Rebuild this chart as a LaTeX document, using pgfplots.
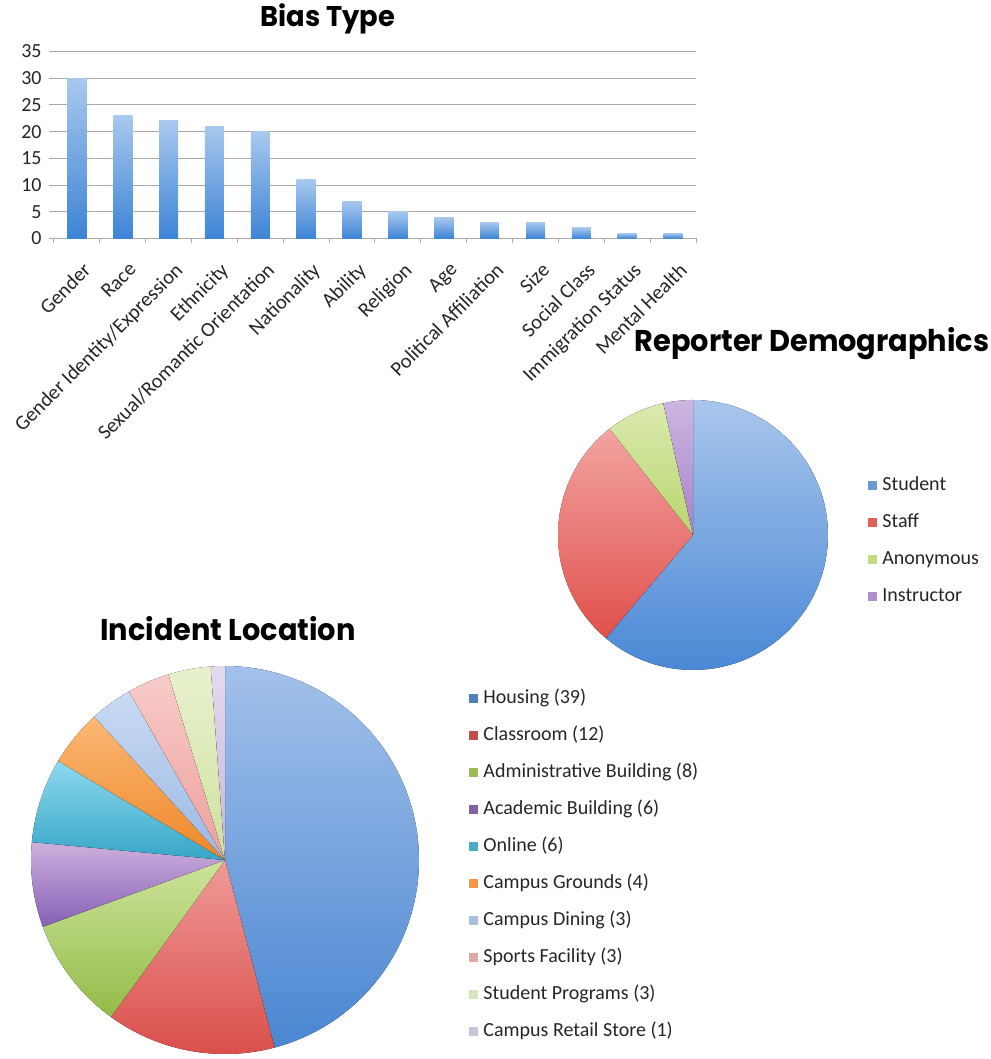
\documentclass[border=0pt]{standalone}
\usepackage{fontspec}
\setmainfont{Carlito}
\newfontfamily\titlefont{Poppins}[FakeStretch=0.96]
\usepackage{pgfplots}
\usepackage{pgfplotstable}
\pgfplotsset{compat=1.18}

\definecolor{gridgray}{HTML}{A8A8A8}
\definecolor{bartop}{HTML}{A8C8EE}
\definecolor{barbot}{HTML}{3D84D6}
\definecolor{txt}{HTML}{262626}
% Reporter colours (t = top, b = bottom, m = legend)
\definecolor{rep0t}{HTML}{A9C6EC}\definecolor{rep0b}{HTML}{4A88D6}\definecolor{rep0m}{HTML}{6A9BD8}
\definecolor{rep1t}{HTML}{F2A4A1}\definecolor{rep1b}{HTML}{E0504C}\definecolor{rep1m}{HTML}{E0605C}
\definecolor{rep2t}{HTML}{DAEAAE}\definecolor{rep2b}{HTML}{B9D56E}\definecolor{rep2m}{HTML}{C2DB80}
\definecolor{rep3t}{HTML}{CDB6E2}\definecolor{rep3b}{HTML}{A582C8}\definecolor{rep3m}{HTML}{B08FCF}
% Incident colours
\definecolor{inc0t}{HTML}{A3C1EA}\definecolor{inc0b}{HTML}{4A86D2}\definecolor{inc0m}{HTML}{4F81BD}
\definecolor{inc1t}{HTML}{F09A97}\definecolor{inc1b}{HTML}{D94F4B}\definecolor{inc1m}{HTML}{C0504D}
\definecolor{inc2t}{HTML}{CDE39B}\definecolor{inc2b}{HTML}{93BB48}\definecolor{inc2m}{HTML}{9BBB59}
\definecolor{inc3t}{HTML}{CDB0DD}\definecolor{inc3b}{HTML}{8660B6}\definecolor{inc3m}{HTML}{8064A2}
\definecolor{inc4t}{HTML}{8DD8EE}\definecolor{inc4b}{HTML}{36A6C6}\definecolor{inc4m}{HTML}{4BACC6}
\definecolor{inc5t}{HTML}{FBB875}\definecolor{inc5b}{HTML}{EE8728}\definecolor{inc5m}{HTML}{F79646}
\definecolor{inc6t}{HTML}{C9DAF2}\definecolor{inc6b}{HTML}{9BB9E4}\definecolor{inc6m}{HTML}{A7C0DE}
\definecolor{inc7t}{HTML}{F8CBC9}\definecolor{inc7b}{HTML}{ED9F9C}\definecolor{inc7m}{HTML}{DFA7A6}
\definecolor{inc8t}{HTML}{E8F1CF}\definecolor{inc8b}{HTML}{CFE19E}\definecolor{inc8m}{HTML}{D7E4BD}
\definecolor{inc9t}{HTML}{E4DAEF}\definecolor{inc9b}{HTML}{C6B6DD}\definecolor{inc9m}{HTML}{CCC1DA}

\pgfplotstableread{
value
52
24
6
3
}\reptable

\pgfplotstableread{
value
39
12
8
6
6
4
3
3
3
1
}\inctable

\newcommand\pieslice[3]{%
  \fill[top color=#3t, bottom color=#3b]
    (axis cs:0,0)
    \foreach \k [evaluate=\k as \cx using {cos(#1+((#2)-(#1))/72*\k)},
                 evaluate=\k as \cy using {sin(#1+((#2)-(#1))/72*\k)}] in {0,...,72}
      { -- (axis cs:\cx,\cy) } -- cycle;
}

\newcommand\drawpie[2]{%
  \gdef\pietotal{0}%
  \pgfplotstableforeachcolumnelement{value}\of#1\as\pv{%
    \pgfmathsetmacro\pietmp{\pietotal+\pv}\global\let\pietotal\pietmp}%
  \gdef\piecum{0}%
  \pgfplotstableforeachcolumnelement{value}\of#1\as\pv{%
    \pgfmathsetmacro\pieA{90-\piecum/\pietotal*360}%
    \pgfmathsetmacro\pienext{\piecum+\pv}%
    \pgfmathsetmacro\pieB{90-\pienext/\pietotal*360}%
    \global\let\piecum\pienext
    \edef\pieslicecmd{\noexpand\pieslice{\pieA}{\pieB}{#2\pgfplotstablerow}}%
    \pieslicecmd
  }%
}

\begin{document}
\begin{tikzpicture}[x=1pt,y=1pt]
\path[use as bounding box] (0,0) rectangle (990,1059);

% ---------------- Bias Type bar chart ----------------
\begin{axis}[
  at={(49.4pt,820.5pt)}, anchor=south west,
  scale only axis, width=646.6pt, height=187pt,
  xmin=-0.6, xmax=13.5, ymin=0, ymax=35,
  axis lines*=left,
  y axis line style={draw=none},
  x axis line style={draw=gridgray, line width=1pt},
  ytick={0,5,...,35},
  ymajorgrids, grid style={draw=gridgray, line width=1pt},
  ytick style={draw=none},
  xtick={0,...,13},
  xtick style={draw=none},
  minor xtick={-0.5,0.5,...,13.5},
  minor x tick style={draw=gridgray, line width=1pt},
  minor tick length=5pt,
  tick align=outside,
  /pgf/number format/assume math mode=true,
  xticklabels={Gender, Race, Gender Identity/Expression, Ethnicity,
    Sexual/Romantic Orientation, Nationality, Ability, Religion, Age,
    Political Affiliation, Size, Social Class, Immigration Status, Mental Health},
  xticklabel style={xshift=5pt, yshift=-17pt, rotate=45, anchor=north east, inner sep=1pt,
    font=\fontsize{20.5}{24}\selectfont, text=txt},
  yticklabel style={font=\fontsize{20}{22}\selectfont, text=txt},
  title={Bias Type},
  title style={at={(0.431,1.104)}, anchor=base, inner sep=0pt,
    font=\titlefont\bfseries\fontsize{28.5}{32}\selectfont, text=black},
  no markers,
  every axis plot post/.append style={ybar, bar width=19pt, bar shift=0pt, mark=none,
    draw=none, top color=bartop, bottom color=barbot},
]
\addplot coordinates {(0,30)};
\addplot coordinates {(1,23)};
\addplot coordinates {(2,22)};
\addplot coordinates {(3,21)};
\addplot coordinates {(4,20)};
\addplot coordinates {(5,11)};
\addplot coordinates {(6,7)};
\addplot coordinates {(7,5)};
\addplot coordinates {(8,4)};
\addplot coordinates {(9,3)};
\addplot coordinates {(10,3)};
\addplot coordinates {(11,2)};
\addplot coordinates {(12,1)};
\addplot coordinates {(13,1)};
\end{axis}

% ---------------- Reporter Demographics pie ----------------
\begin{axis}[
  at={(558pt,389pt)}, anchor=south west,
  scale only axis, width=270pt, height=270pt,
  xmin=-1, xmax=1, ymin=-1, ymax=1,
  hide axis, clip=false,
  title={Reporter Demographics},
  title style={at={(0.941,1.156)}, anchor=base, inner sep=0pt,
    font=\titlefont\bfseries\fontsize{30}{34}\selectfont, text=black},
  legend image code/.code={\fill[#1] (0pt,-4pt) rectangle (8pt,4pt);},
  legend cell align=left,
  legend style={at={(1.148,0.717)}, anchor=north west, draw=none, fill=none,
    inner sep=0pt, outer sep=0pt, row sep=19pt, column sep=6pt,
    font=\fontsize{20}{24}\selectfont,
    nodes={inner sep=0pt, text height=14pt, text depth=4pt, text=txt}},
]
\pgfplotsextra{\drawpie{\reptable}{rep}}
\addlegendimage{rep0m}\addlegendentry{Student}
\addlegendimage{rep1m}\addlegendentry{Staff}
\addlegendimage{rep2m}\addlegendentry{Anonymous}
\addlegendimage{rep3m}\addlegendentry{Instructor}
\end{axis}

% ---------------- Incident Location pie ----------------
\begin{axis}[
  at={(31pt,5pt)}, anchor=south west,
  scale only axis, width=388pt, height=388pt,
  xmin=-1, xmax=1, ymin=-1, ymax=1,
  hide axis, clip=false,
  title={Incident Location},
  title style={at={(0.508,1.049)}, anchor=base, inner sep=0pt,
    font=\titlefont\bfseries\fontsize{30}{34}\selectfont, text=black},
  legend image code/.code={\fill[#1] (0pt,-4pt) rectangle (8pt,4pt);},
  legend cell align=left,
  legend style={at={(1.129,0.939)}, anchor=north west, draw=none, fill=none,
    inner sep=0pt, outer sep=0pt, row sep=19pt, column sep=6pt,
    font=\fontsize{20}{24}\selectfont,
    nodes={inner sep=0pt, text height=14pt, text depth=4pt, text=txt}},
]
\pgfplotsextra{\drawpie{\inctable}{inc}}
\addlegendimage{inc0m}\addlegendentry{Housing (39)}
\addlegendimage{inc1m}\addlegendentry{Classroom (12)}
\addlegendimage{inc2m}\addlegendentry{Administrative Building (8)}
\addlegendimage{inc3m}\addlegendentry{Academic Building (6)}
\addlegendimage{inc4m}\addlegendentry{Online (6)}
\addlegendimage{inc5m}\addlegendentry{Campus Grounds (4)}
\addlegendimage{inc6m}\addlegendentry{Campus Dining (3)}
\addlegendimage{inc7m}\addlegendentry{Sports Facility (3)}
\addlegendimage{inc8m}\addlegendentry{Student Programs (3)}
\addlegendimage{inc9m}\addlegendentry{Campus Retail Store (1)}
\end{axis}
\end{tikzpicture}
\end{document}
